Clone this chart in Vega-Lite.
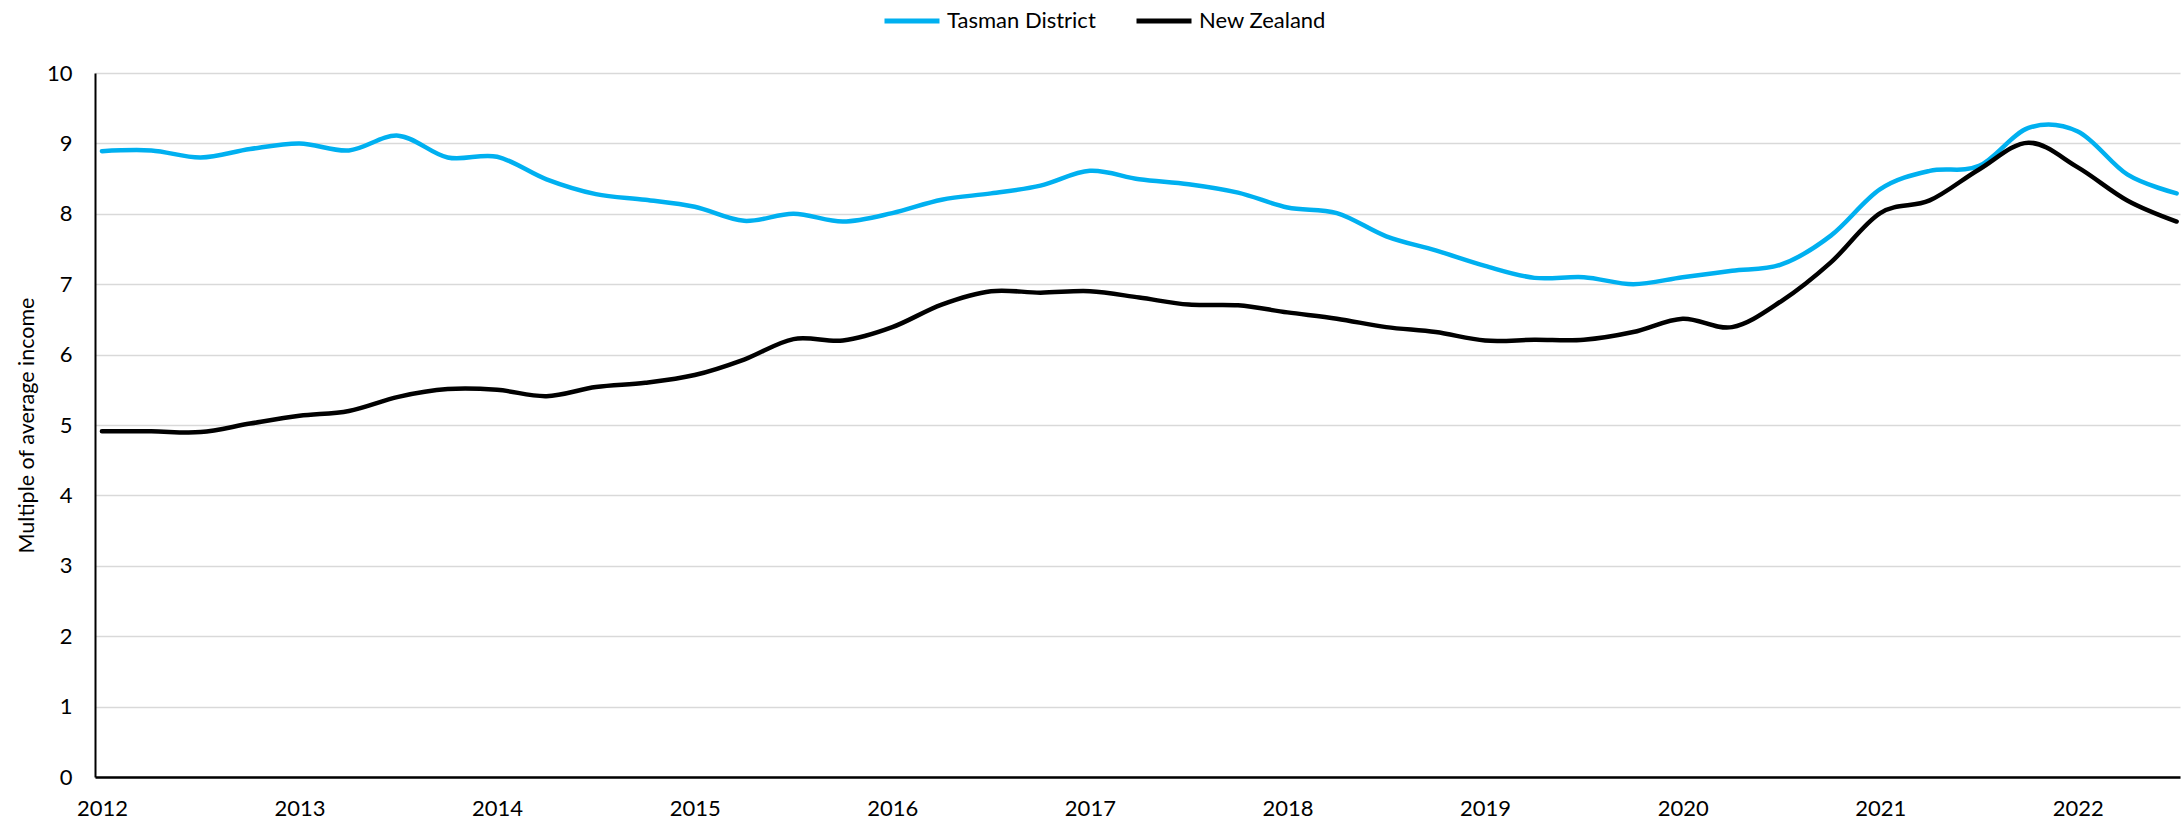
{
  "$schema": "https://vega.github.io/schema/vega-lite/v6.json",
  "autosize": "none",
  "width": 2085,
  "height": 704,
  "padding": {"left": 95, "top": 73, "right": 2, "bottom": 44},
  "background": "white",
  "config": {
    "view": {"stroke": null},
    "font": "Lato",
    "axis": {"labelFont": "Lato", "titleFont": "Lato", "labelColor": "#000000", "titleColor": "#000000"},
    "legend": {"labelFont": "Lato"}
  },
  "datasets": {
    "series": [
      {"t": 2012.00, "region": "Tasman District", "value": 8.89},
      {"t": 2012.25, "region": "Tasman District", "value": 8.90},
      {"t": 2012.50, "region": "Tasman District", "value": 8.80},
      {"t": 2012.75, "region": "Tasman District", "value": 8.92},
      {"t": 2013.00, "region": "Tasman District", "value": 9.00},
      {"t": 2013.25, "region": "Tasman District", "value": 8.90},
      {"t": 2013.50, "region": "Tasman District", "value": 9.11},
      {"t": 2013.75, "region": "Tasman District", "value": 8.80},
      {"t": 2014.00, "region": "Tasman District", "value": 8.81},
      {"t": 2014.25, "region": "Tasman District", "value": 8.49},
      {"t": 2014.50, "region": "Tasman District", "value": 8.28},
      {"t": 2014.75, "region": "Tasman District", "value": 8.20},
      {"t": 2015.00, "region": "Tasman District", "value": 8.10},
      {"t": 2015.25, "region": "Tasman District", "value": 7.90},
      {"t": 2015.50, "region": "Tasman District", "value": 8.00},
      {"t": 2015.75, "region": "Tasman District", "value": 7.89},
      {"t": 2016.00, "region": "Tasman District", "value": 8.01},
      {"t": 2016.25, "region": "Tasman District", "value": 8.20},
      {"t": 2016.50, "region": "Tasman District", "value": 8.29},
      {"t": 2016.75, "region": "Tasman District", "value": 8.40},
      {"t": 2017.00, "region": "Tasman District", "value": 8.61},
      {"t": 2017.25, "region": "Tasman District", "value": 8.49},
      {"t": 2017.50, "region": "Tasman District", "value": 8.42},
      {"t": 2017.75, "region": "Tasman District", "value": 8.30},
      {"t": 2018.00, "region": "Tasman District", "value": 8.09},
      {"t": 2018.25, "region": "Tasman District", "value": 8.01},
      {"t": 2018.50, "region": "Tasman District", "value": 7.68},
      {"t": 2018.75, "region": "Tasman District", "value": 7.48},
      {"t": 2019.00, "region": "Tasman District", "value": 7.26},
      {"t": 2019.25, "region": "Tasman District", "value": 7.09},
      {"t": 2019.50, "region": "Tasman District", "value": 7.10},
      {"t": 2019.75, "region": "Tasman District", "value": 7.00},
      {"t": 2020.00, "region": "Tasman District", "value": 7.10},
      {"t": 2020.25, "region": "Tasman District", "value": 7.19},
      {"t": 2020.50, "region": "Tasman District", "value": 7.28},
      {"t": 2020.75, "region": "Tasman District", "value": 7.69},
      {"t": 2021.00, "region": "Tasman District", "value": 8.35},
      {"t": 2021.25, "region": "Tasman District", "value": 8.61},
      {"t": 2021.50, "region": "Tasman District", "value": 8.68},
      {"t": 2021.75, "region": "Tasman District", "value": 9.22},
      {"t": 2022.00, "region": "Tasman District", "value": 9.17},
      {"t": 2022.25, "region": "Tasman District", "value": 8.56},
      {"t": 2022.50, "region": "Tasman District", "value": 8.29},
      {"t": 2012.00, "region": "New Zealand", "value": 4.91},
      {"t": 2012.25, "region": "New Zealand", "value": 4.91},
      {"t": 2012.50, "region": "New Zealand", "value": 4.90},
      {"t": 2012.75, "region": "New Zealand", "value": 5.02},
      {"t": 2013.00, "region": "New Zealand", "value": 5.13},
      {"t": 2013.25, "region": "New Zealand", "value": 5.20},
      {"t": 2013.50, "region": "New Zealand", "value": 5.40},
      {"t": 2013.75, "region": "New Zealand", "value": 5.51},
      {"t": 2014.00, "region": "New Zealand", "value": 5.50},
      {"t": 2014.25, "region": "New Zealand", "value": 5.41},
      {"t": 2014.50, "region": "New Zealand", "value": 5.54},
      {"t": 2014.75, "region": "New Zealand", "value": 5.60},
      {"t": 2015.00, "region": "New Zealand", "value": 5.71},
      {"t": 2015.25, "region": "New Zealand", "value": 5.93},
      {"t": 2015.50, "region": "New Zealand", "value": 6.22},
      {"t": 2015.75, "region": "New Zealand", "value": 6.20},
      {"t": 2016.00, "region": "New Zealand", "value": 6.39},
      {"t": 2016.25, "region": "New Zealand", "value": 6.71},
      {"t": 2016.50, "region": "New Zealand", "value": 6.90},
      {"t": 2016.75, "region": "New Zealand", "value": 6.88},
      {"t": 2017.00, "region": "New Zealand", "value": 6.90},
      {"t": 2017.25, "region": "New Zealand", "value": 6.81},
      {"t": 2017.50, "region": "New Zealand", "value": 6.71},
      {"t": 2017.75, "region": "New Zealand", "value": 6.70},
      {"t": 2018.00, "region": "New Zealand", "value": 6.60},
      {"t": 2018.25, "region": "New Zealand", "value": 6.51},
      {"t": 2018.50, "region": "New Zealand", "value": 6.39},
      {"t": 2018.75, "region": "New Zealand", "value": 6.32},
      {"t": 2019.00, "region": "New Zealand", "value": 6.20},
      {"t": 2019.25, "region": "New Zealand", "value": 6.21},
      {"t": 2019.50, "region": "New Zealand", "value": 6.21},
      {"t": 2019.75, "region": "New Zealand", "value": 6.32},
      {"t": 2020.00, "region": "New Zealand", "value": 6.51},
      {"t": 2020.25, "region": "New Zealand", "value": 6.39},
      {"t": 2020.50, "region": "New Zealand", "value": 6.76},
      {"t": 2020.75, "region": "New Zealand", "value": 7.31},
      {"t": 2021.00, "region": "New Zealand", "value": 8.01},
      {"t": 2021.25, "region": "New Zealand", "value": 8.19},
      {"t": 2021.50, "region": "New Zealand", "value": 8.63},
      {"t": 2021.75, "region": "New Zealand", "value": 9.01},
      {"t": 2022.00, "region": "New Zealand", "value": 8.66},
      {"t": 2022.25, "region": "New Zealand", "value": 8.19},
      {"t": 2022.50, "region": "New Zealand", "value": 7.89}
    ]
  },
  "data": {"name": "series"},
  "mark": {"type": "line", "interpolate": "cardinal", "strokeWidth": 4.5, "strokeCap": "round", "strokeJoin": "round"},
  "encoding": {
    "x": {
      "field": "t",
      "type": "quantitative",
      "scale": {"domain": [2011.965, 2022.517], "nice": false, "zero": false},
      "axis": {
        "title": null,
        "values": [2012, 2013, 2014, 2015, 2016, 2017, 2018, 2019, 2020, 2021, 2022],
        "format": "d",
        "grid": false,
        "ticks": false,
        "domainColor": "#000000",
        "domainWidth": 2.5,
        "labelFontSize": 22,
        "labelPadding": 21,
        "labelFlush": false
      }
    },
    "y": {
      "field": "value",
      "type": "quantitative",
      "scale": {"domain": [0, 10], "nice": false},
      "axis": {
        "title": "Multiple of average income",
        "values": [0, 1, 2, 3, 4, 5, 6, 7, 8, 9, 10],
        "grid": true,
        "gridColor": "#D9D9D9",
        "gridWidth": 1.5,
        "ticks": false,
        "domainColor": "#000000",
        "domainWidth": 2,
        "labelFontSize": 22,
        "labelPadding": 23,
        "titleFontSize": 21.5,
        "titleFontWeight": "normal",
        "titleAngle": 270,
        "titleX": -68,
        "titleY": 352,
        "titleAlign": "center",
        "titleBaseline": "middle"
      }
    },
    "color": {
      "field": "region",
      "type": "nominal",
      "scale": {"domain": ["Tasman District", "New Zealand"], "range": ["#00B0F0", "#000000"]},
      "legend": {
        "title": null,
        "orient": "none",
        "direction": "horizontal",
        "legendX": 787,
        "legendY": -82,
        "symbolType": "stroke",
        "symbolSize": 3025,
        "symbolStrokeWidth": 5,
        "labelFontSize": 22,
        "labelColor": "#000000",
        "labelOffset": 5,
        "columnPadding": 30
      }
    }
  }
}
